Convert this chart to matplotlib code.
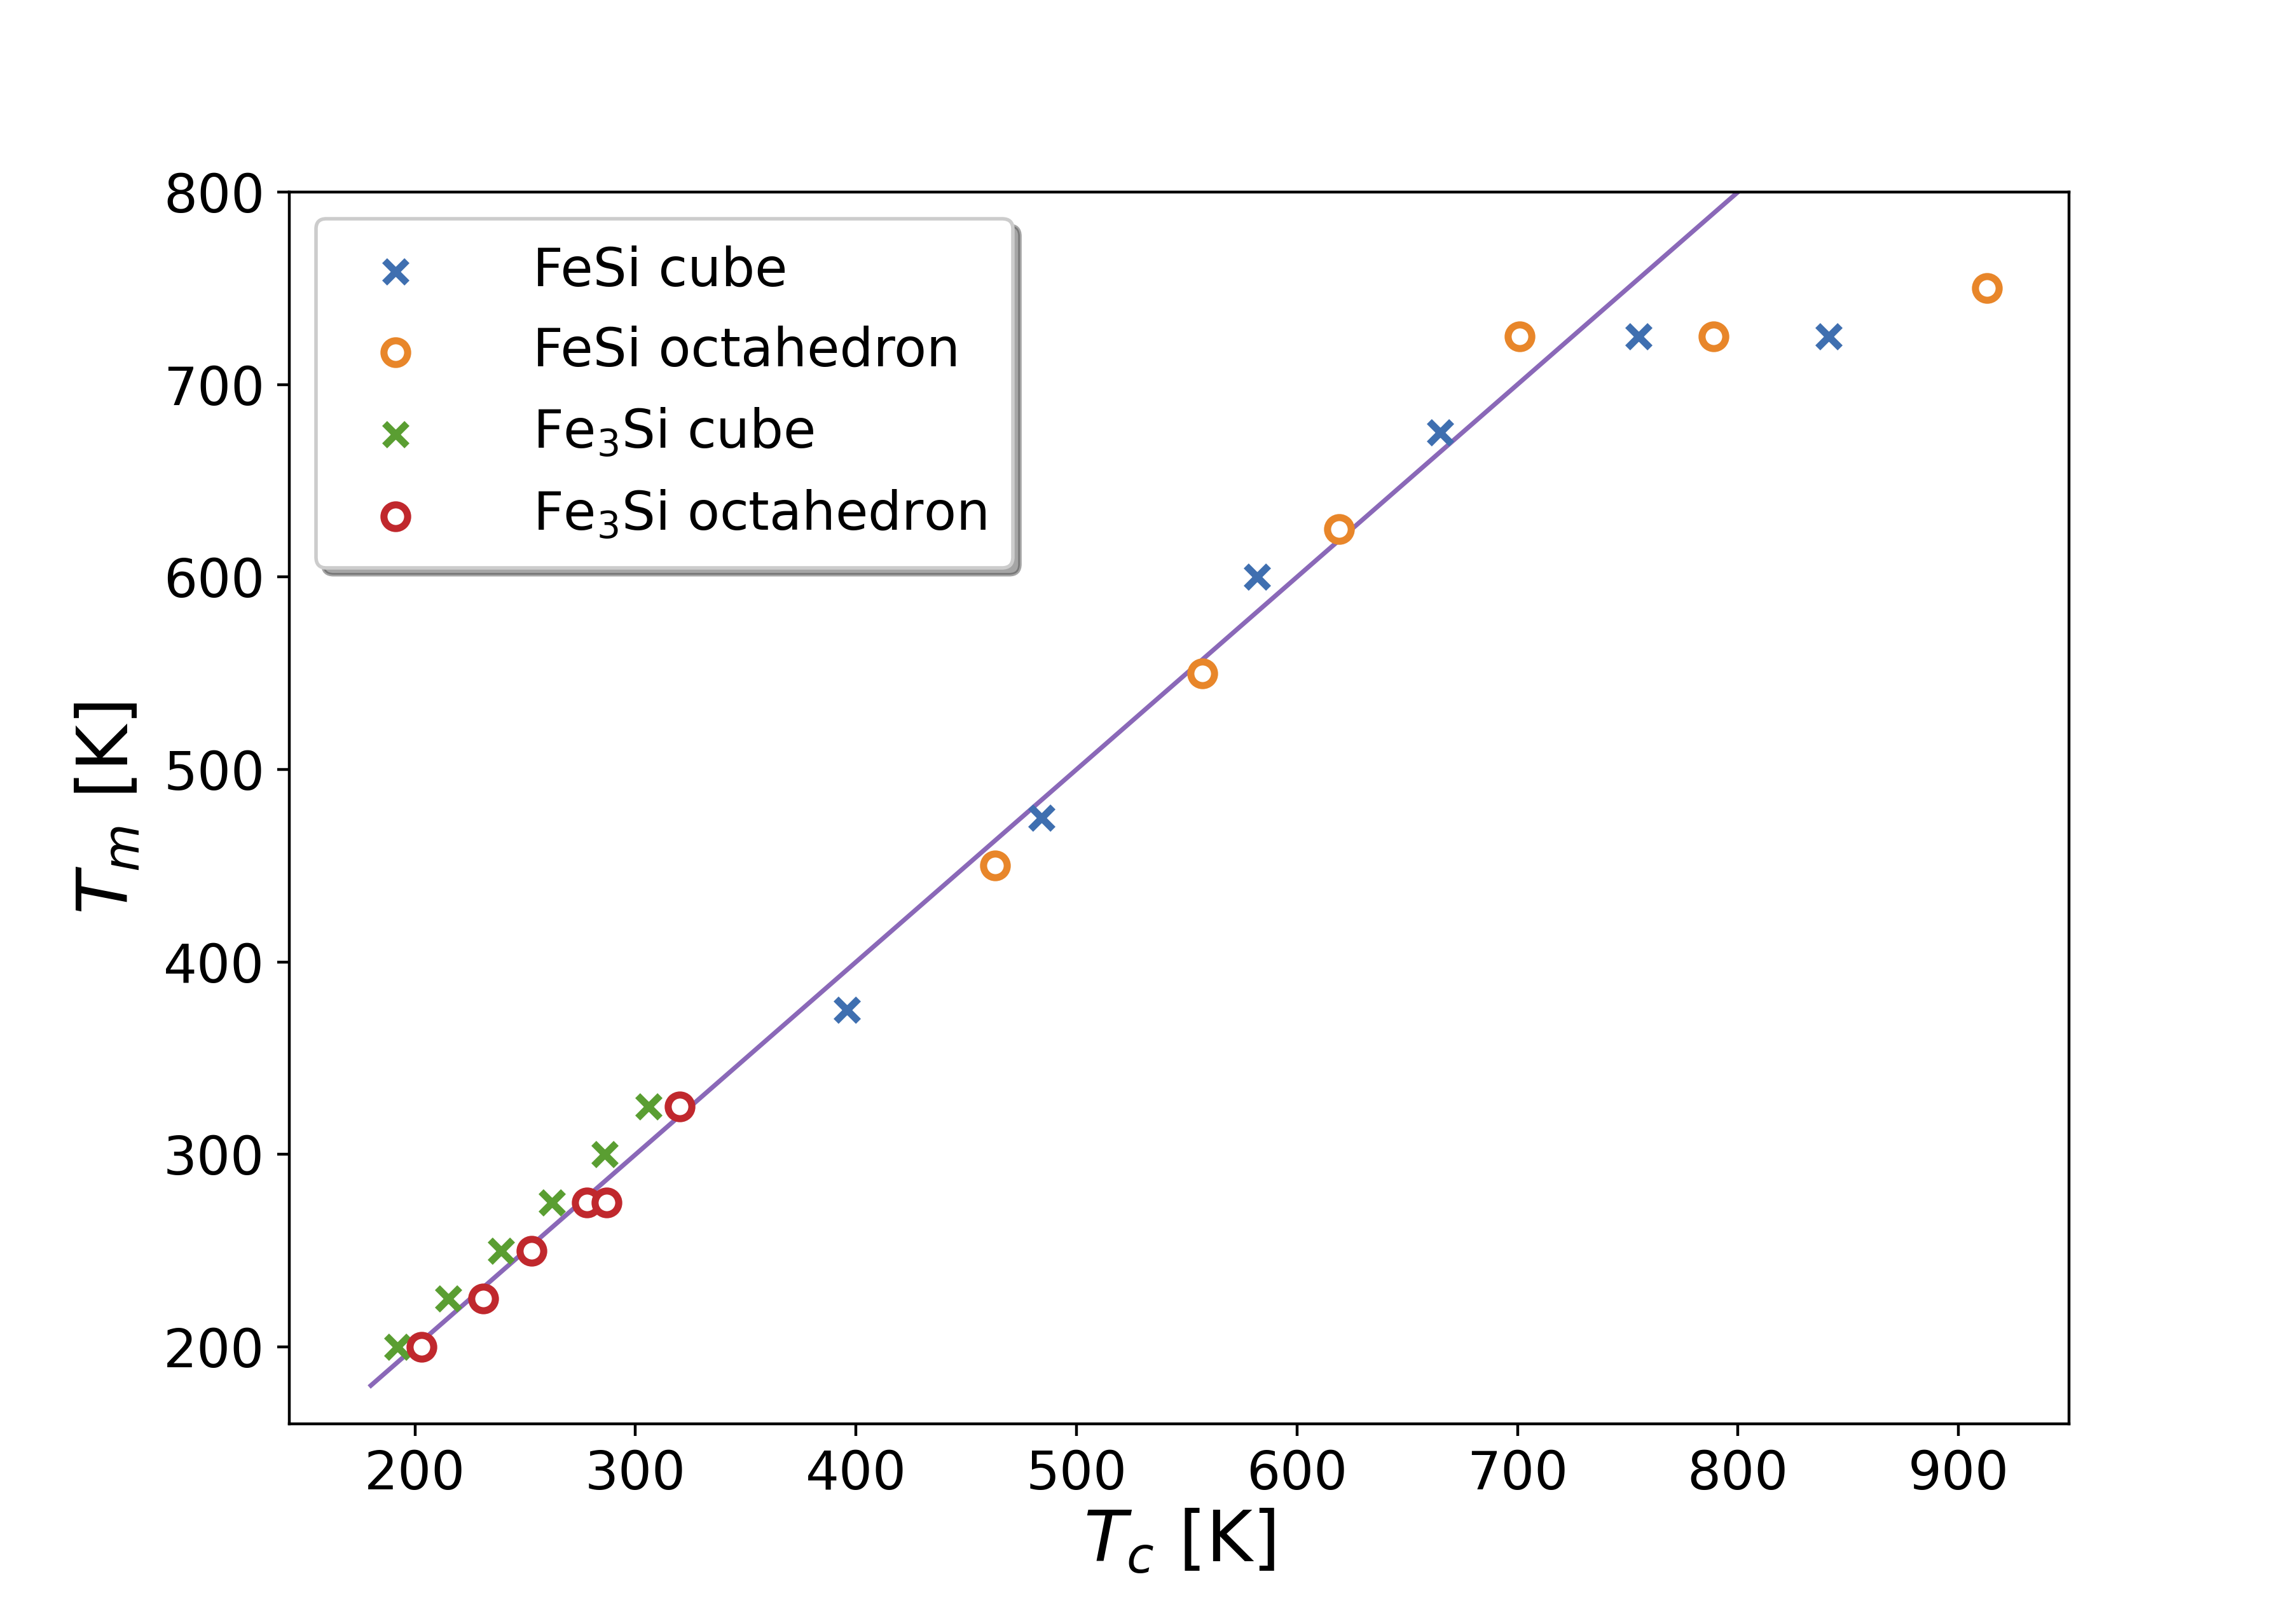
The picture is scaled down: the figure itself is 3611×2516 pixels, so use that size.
import matplotlib
matplotlib.use("Agg")
import matplotlib.pyplot as plt
import numpy as np

fesi_cube_x = [396, 484, 582, 665, 755, 841]
fesi_cube_y = [375, 475, 600, 675, 725, 725]
fesi_oct_x = [463, 557, 619, 701, 789, 913]
fesi_oct_y = [450, 550, 625, 725, 725, 750]
fe3si_cube_x = [192, 215, 239, 262, 286, 306]
fe3si_cube_y = [200, 225, 250, 275, 300, 325]
fe3si_oct_x = [203, 231, 253, 278, 287, 320]
fe3si_oct_y = [200, 225, 250, 275, 275, 325]
line_x = [180, 820]

fig = plt.figure(figsize=(9.0275, 6.29), dpi=400)
ax = fig.add_axes([0.126, 0.110, 0.775, 0.770])
ax.plot(line_x, line_x, color='#8a68b8', lw=1.3, zorder=1)
ax.scatter(fesi_cube_x, fesi_cube_y, marker='x', s=40, lw=2, color='#3f6fb0', label='FeSi cube', zorder=3)
ax.scatter(fesi_oct_x, fesi_oct_y, marker='o', s=45, lw=2, facecolors='white', edgecolors='#e8862a', label='FeSi octahedron', zorder=3)
ax.scatter(fe3si_cube_x, fe3si_cube_y, marker='x', s=40, lw=2, color='#5a9e32', label='Fe$_3$Si cube', zorder=3)
ax.scatter(fe3si_oct_x, fe3si_oct_y, marker='o', s=45, lw=2, facecolors='white', edgecolors='#c0282d', label='Fe$_3$Si octahedron', zorder=3)
ax.set_xlim(143, 950)
ax.set_ylim(160, 800)
ax.set_xticks(range(200, 901, 100))
ax.set_yticks(range(200, 801, 100))
ax.tick_params(labelsize=15)
ax.set_xlabel('$T_c$ [K]', fontsize=20, labelpad=2)
ax.set_ylabel('$T_m$ [K]', fontsize=20, labelpad=6)
ax.legend(loc='upper left', fontsize=15, shadow=True, handletextpad=1.6, borderpad=0.5, labelspacing=0.55)
fig.savefig('out.png', dpi=400)
